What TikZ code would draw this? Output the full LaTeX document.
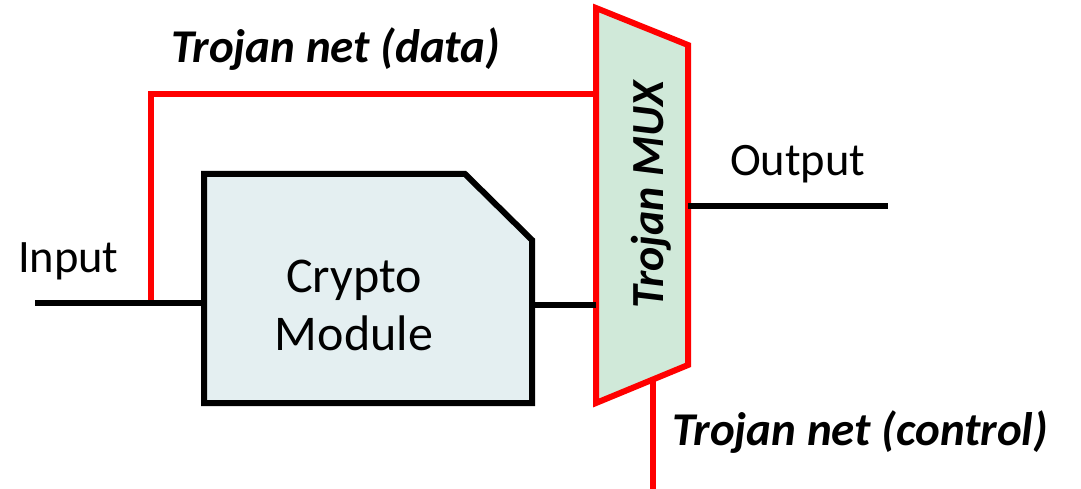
\documentclass[tikz,border=0pt]{standalone}
\usepackage{fontspec}
\setmainfont{Carlito}
\definecolor{muxfill}{RGB}{208,233,217}
\definecolor{cryptofill}{RGB}{228,239,241}
\definecolor{trojred}{RGB}{255,0,0}
\begin{document}
\begin{tikzpicture}[x=1pt,y=-1pt,
  wire/.style={line width=6pt,black},
  redwire/.style={line width=6pt,trojred},
  lbl/.style={inner sep=0pt,outer sep=0pt,anchor=base},
  boldlbl/.style={lbl,font=\fontsize{47}{50}\selectfont\bfseries\itshape},
  plainlbl/.style={lbl,font=\fontsize{46.5}{50}\selectfont}]
\useasboundingbox (0,0) rectangle (1081,489);
% Crypto module
\draw[wire,fill=cryptofill,line join=miter] (204,174) -- (465,174) -- (532,240) -- (532,403) -- (204,403) -- cycle;
\coordinate (cmW) at (204,303);
\coordinate (cmE) at (532,305);
% MUX
\draw[redwire,fill=muxfill,line join=miter] (596,8) -- (688,45) -- (688,365) -- (596,403) -- cycle;
\coordinate (muxW1) at (596,94);
\coordinate (muxW2) at (596,305);
\coordinate (muxE) at (688,206);
\coordinate (muxS) at (653,380);
% wires
\coordinate (inL) at (35,303);
\coordinate (tap) at (151,300);
\coordinate (outR) at (888,206);
\coordinate (ctrlB) at (653,489);
\draw[wire] (inL) -- (cmW);
\draw[wire] (cmE) -- (muxW2);
\draw[wire] (muxE) -- (outR);
\draw[redwire,line join=miter] (tap) |- (muxW1);
\draw[redwire] (muxS) -- (ctrlB);
% texts
\node[plainlbl,anchor=base west] (input) at (18,272) {Input};
\node[plainlbl,anchor=base west] (output) at (730,176) {Output};
\node[lbl,font=\fontsize{50}{58}\selectfont] (cm1) at (354,292) {Crypto};
\node[lbl,font=\fontsize{50}{58}\selectfont] (cm2) at (354,350) {Module};
\node[boldlbl,anchor=base west] (tdata) at (171,63) {Trojan net (data)};
\node[boldlbl,anchor=base west] (tctrl) at (672,445) {Trojan net (control)};
\node[boldlbl,font=\fontsize{46}{50}\selectfont\bfseries\itshape,rotate=90,anchor=base] (tmux) at (663,195) {Trojan MUX};
\end{tikzpicture}
\end{document}
